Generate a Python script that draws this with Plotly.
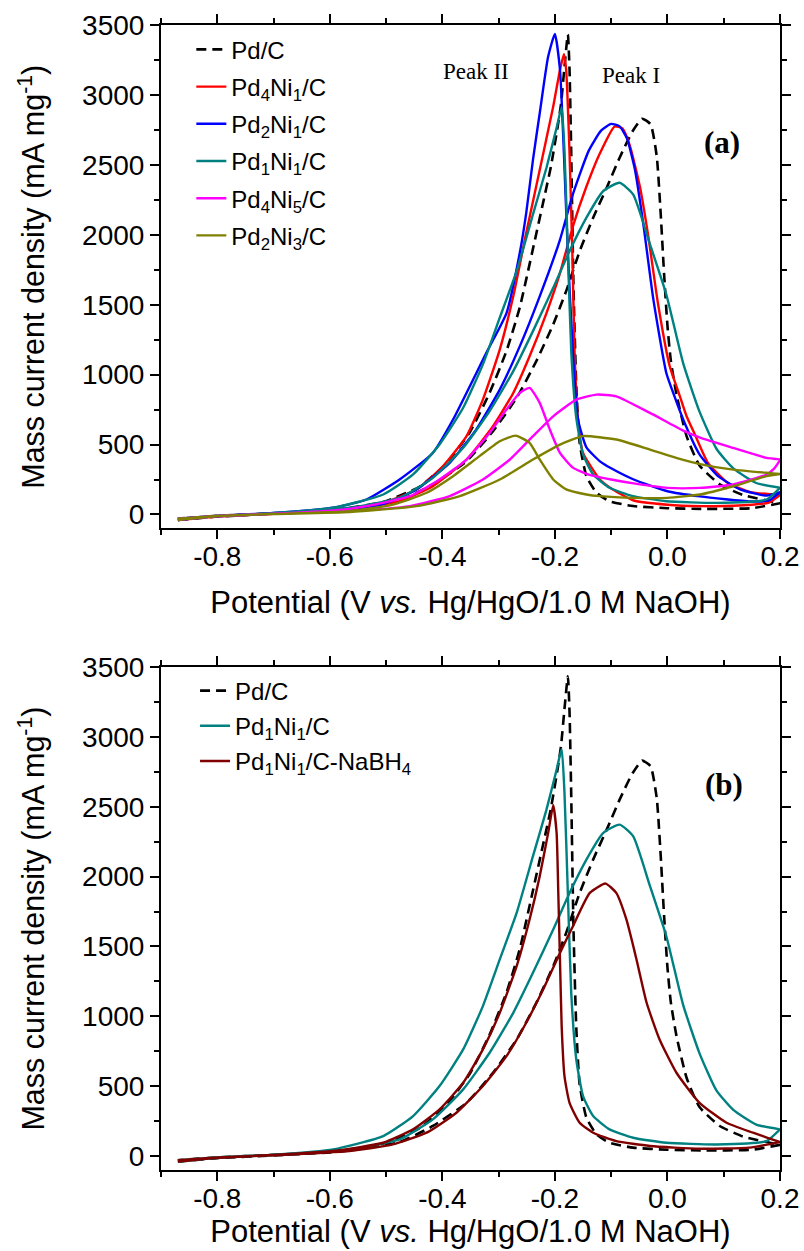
import plotly.graph_objects as go

# ---------------- data (V vs Hg/HgO, mA mg^-1) ----------------
# Pd/C
pdc_fwd_v = [-0.87, -0.80, -0.70, -0.60, -0.565, -0.476, -0.417, -0.357, -0.310, -0.268, -0.233, -0.203,
             -0.180, -0.156, -0.132, -0.108, -0.085, -0.062, -0.045, -0.030, -0.019, -0.012, -0.006, 0.000,
             0.006, 0.016, 0.034, 0.057, 0.093, 0.134, 0.188, 0.200]
pdc_fwd_i = [-40, -15, 5, 25, 40, 100, 215, 381, 596, 834, 1097, 1359,
             1597, 1883, 2122, 2336, 2551, 2740, 2830, 2790, 2560, 2150, 1720, 1350,
             1100, 860, 560, 350, 215, 140, 90, 80]
pdc_bwd_v = [0.200, 0.150, 0.060, 0.000, -0.061, -0.103, -0.126, -0.144, -0.156, -0.162, -0.167, -0.171,
             -0.174, -0.177, -0.183, -0.189, -0.195, -0.207, -0.221, -0.239, -0.2625, -0.286, -0.316,
             -0.351, -0.393, -0.440, -0.505, -0.594, -0.70, -0.80, -0.87]
pdc_bwd_i = [80, 45, 40, 45, 60, 95, 155, 274, 512, 917, 1631, 2583,
             3179, 3433, 3200, 2940, 2775, 2490, 2229, 1900, 1480, 1170, 870,
             590, 365, 200, 90, 32, 8, -10, -30]

# Pd4Ni1/C
p41_fwd_v = [-0.87, -0.80, -0.70, -0.60, -0.565, -0.476, -0.417, -0.357, -0.310, -0.274, -0.245, -0.215,
             -0.191, -0.168, -0.144, -0.120, -0.094, -0.080, -0.067, -0.049, -0.034, -0.017, 0.004,
             0.020, 0.034, 0.049, 0.072, 0.107, 0.147, 0.200]
p41_fwd_i = [-40, -15, 5, 25, 36, 95, 202, 393, 631, 869, 1131, 1440,
             1726, 2060, 2345, 2583, 2774, 2760, 2640, 2345, 1988, 1512, 1060,
             870, 702, 570, 369, 226, 160, 140]
p41_bwd_v = [0.200, 0.180, 0.117, 0.058, 0.000, -0.060, -0.097, -0.120, -0.150, -0.159, -0.165, -0.169,
             -0.174, -0.180, -0.184, -0.191, -0.203, -0.227, -0.251, -0.274, -0.298, -0.328, -0.357,
             -0.399, -0.446, -0.505, -0.594, -0.70, -0.80, -0.87]
p41_bwd_i = [140, 85, 62, 60, 70, 100, 178, 250, 440, 679, 1155, 1869,
             2583, 3180, 3291, 3179, 2917, 2464, 2012, 1560, 1179, 821, 560,
             345, 179, 83, 28, 8, -10, -30]

# Pd2Ni1/C
p21_fwd_v = [-0.87, -0.80, -0.70, -0.594, -0.505, -0.446, -0.387, -0.340, -0.298, -0.2625, -0.227, -0.191,
             -0.168, -0.140, -0.118, -0.100, -0.085, -0.072, -0.058, -0.043, -0.025, -0.002, 0.012,
             0.030, 0.057, 0.090, 0.129, 0.176, 0.200]
p21_fwd_i = [-40, -12, 8, 30, 75, 179, 369, 607, 893, 1202, 1560, 1964,
             2290, 2600, 2745, 2793, 2775, 2690, 2470, 2080, 1536, 1012, 850,
             660, 430, 274, 180, 135, 160]
p21_bwd_v = [0.200, 0.180, 0.147, 0.058, 0.000, -0.060, -0.100, -0.120, -0.144, -0.159, -0.168, -0.177,
             -0.184, -0.191, -0.200, -0.212, -0.227, -0.239, -0.251, -0.2625, -0.286, -0.322, -0.381,
             -0.417, -0.476, -0.535, -0.594, -0.70, -0.80, -0.87]
p21_bwd_i = [160, 100, 93, 129, 166, 250, 330, 380, 480, 680, 1155, 1870,
             2583, 3180, 3436, 3274, 2869, 2536, 2155, 1869, 1440, 1155, 679,
             440, 250, 107, 48, 10, -10, -30]

# Pd1Ni1/C
p11_fwd_v = [-0.87, -0.80, -0.70, -0.565, -0.476, -0.417, -0.363, -0.316, -0.274, -0.239, -0.203, -0.174,
             -0.144, -0.114, -0.085, -0.061, -0.031, -0.002, 0.028, 0.057, 0.087, 0.117, 0.158, 0.200]
p11_fwd_i = [-40, -12, 8, 48, 119, 262, 477, 739, 1025, 1311, 1621, 1883,
             2122, 2313, 2372, 2289, 1931, 1573, 1080, 735, 470, 330, 225, 191]
p11_bwd_v = [0.200, 0.176, 0.087, -0.002, -0.061, -0.103, -0.132, -0.150, -0.162, -0.171, -0.177, -0.183,
             -0.188, -0.197, -0.215, -0.239, -0.268, -0.298, -0.328, -0.363, -0.405, -0.452, -0.505,
             -0.594, -0.70, -0.80, -0.87]
p11_bwd_i = [191, 107, 83, 95, 131, 191, 286, 429, 691, 1168, 1883, 2599,
             2913, 2765, 2479, 2146, 1740, 1407, 1073, 763, 501, 286, 143,
             48, 10, -10, -30]

# Pd4Ni5/C
p45_fwd_v = [-0.87, -0.80, -0.70, -0.565, -0.458, -0.387, -0.328, -0.280, -0.239, -0.203, -0.162, -0.126,
             -0.091, -0.031, 0.028, 0.058, 0.117, 0.176, 0.200]
p45_fwd_i = [-40, -12, 5, 24, 60, 131, 250, 393, 560, 702, 821, 857,
             845, 726, 600, 550, 476, 405, 393]
p45_bwd_v = [0.200, 0.190, 0.176, 0.117, 0.058, 0.000, -0.060, -0.100, -0.140, -0.168, -0.191, -0.209,
             -0.227, -0.245, -0.2625, -0.286, -0.316, -0.357, -0.405, -0.458, -0.535, -0.594, -0.70,
             -0.80, -0.87]
p45_bwd_i = [390, 330, 286, 214, 190, 190, 222, 250, 285, 335, 440, 607,
             798, 905, 869, 750, 583, 393, 250, 131, 60, 28, 5,
             -10, -30]

# Pd2Ni3/C
p23_fwd_v = [-0.87, -0.80, -0.70, -0.565, -0.446, -0.369, -0.298, -0.239, -0.191, -0.150, -0.091, -0.031,
             0.028, 0.058, 0.117, 0.176, 0.200]
p23_fwd_i = [-40, -12, 3, 17, 60, 131, 250, 393, 500, 560, 536, 464,
             390, 360, 321, 298, 290]
p23_bwd_v = [0.200, 0.176, 0.117, 0.058, 0.000, -0.060, -0.120, -0.144, -0.180, -0.203, -0.227, -0.245,
             -0.270, -0.298, -0.334, -0.381, -0.428, -0.488, -0.565, -0.70, -0.80, -0.87]
p23_bwd_i = [290, 274, 202, 143, 119, 119, 131, 143, 179, 250, 393, 512,
             564, 524, 417, 274, 155, 71, 24, 3, -10, -30]

# Pd1Ni1/C-NaBH4
nab_fwd_v = [-0.87, -0.80, -0.70, -0.565, -0.488, -0.428, -0.375, -0.328, -0.286, -0.251, -0.221, -0.191,
             -0.168, -0.138, -0.110, -0.091, -0.073, -0.055, -0.037, -0.014, 0.016, 0.057, 0.105, 0.152, 0.200]
nab_fwd_i = [-40, -12, 5, 36, 83, 167, 310, 501, 715, 954, 1192, 1454,
             1645, 1883, 1950, 1883, 1693, 1407, 1097, 834, 596, 381, 238, 167, 100]
nab_bwd_v = [0.200, 0.146, 0.057, -0.031, -0.091, -0.132, -0.156, -0.174, -0.183, -0.188, -0.191, -0.194,
             -0.197, -0.203, -0.212, -0.227, -0.245, -0.268, -0.298, -0.328, -0.363, -0.405, -0.452,
             -0.505, -0.594, -0.70, -0.80, -0.87]
nab_bwd_i = [100, 60, 52, 72, 107, 167, 238, 381, 572, 930, 1407, 1883,
             2313, 2510, 2313, 2003, 1693, 1359, 1025, 763, 524, 334, 191,
             95, 36, 8, -10, -30]

x_ticks = [-0.8, -0.6, -0.4, -0.2, 0.0, 0.2]
x_tick_text = ["-0.8", "-0.6", "-0.4", "-0.2", "0.0", "0.2"]
y_ticks = [0, 500, 1000, 1500, 2000, 2500, 3000, 3500]

# ---------------- figure ----------------
SANS = "Liberation Sans, Arial, sans-serif"
SERIF = "Liberation Serif, Times New Roman, serif"

fig = go.Figure()

DASH = "10px,6px"
top_series = [
    ("Pd/C", pdc_fwd_v, pdc_fwd_i, pdc_bwd_v, pdc_bwd_i, "#000000", DASH),
    ("Pd<sub>4</sub>Ni<sub>1</sub>/C", p41_fwd_v, p41_fwd_i, p41_bwd_v, p41_bwd_i, "#FF0000", "solid"),
    ("Pd<sub>2</sub>Ni<sub>1</sub>/C", p21_fwd_v, p21_fwd_i, p21_bwd_v, p21_bwd_i, "#0000FF", "solid"),
    ("Pd<sub>1</sub>Ni<sub>1</sub>/C", p11_fwd_v, p11_fwd_i, p11_bwd_v, p11_bwd_i, "#008080", "solid"),
    ("Pd<sub>4</sub>Ni<sub>5</sub>/C", p45_fwd_v, p45_fwd_i, p45_bwd_v, p45_bwd_i, "#FF00FF", "solid"),
    ("Pd<sub>2</sub>Ni<sub>3</sub>/C", p23_fwd_v, p23_fwd_i, p23_bwd_v, p23_bwd_i, "#808000", "solid"),
]
bottom_series = [
    ("Pd/C", pdc_fwd_v, pdc_fwd_i, pdc_bwd_v, pdc_bwd_i, "#000000", DASH),
    ("Pd<sub>1</sub>Ni<sub>1</sub>/C", p11_fwd_v, p11_fwd_i, p11_bwd_v, p11_bwd_i, "#008080", "solid"),
    ("Pd<sub>1</sub>Ni<sub>1</sub>/C-NaBH<sub>4</sub>", nab_fwd_v, nab_fwd_i, nab_bwd_v, nab_bwd_i, "#800000", "solid"),
]

for k, (name, fv, fi, bv, bi, col, dash) in enumerate(top_series):
    fig.add_trace(go.Scatter(
        x=fv + bv, y=fi + bi, mode="lines", name=name,
        line=dict(color=col, width=2.6 if dash == DASH else 2.4, dash=dash, shape="spline", smoothing=0.5),
        xaxis="x", yaxis="y", legend="legend", legendgroup="t%d" % k))

for k, (name, fv, fi, bv, bi, col, dash) in enumerate(bottom_series):
    fig.add_trace(go.Scatter(
        x=fv + bv, y=fi + bi, mode="lines", name=name,
        line=dict(color=col, width=2.6 if dash == DASH else 2.4, dash=dash, shape="spline", smoothing=0.5),
        xaxis="x2", yaxis="y2", legend="legend2", legendgroup="b%d" % k))

def xaxis_style(domain_anchor, standoff):
    return dict(
        range=[-0.9, 0.2], tickvals=x_ticks, ticktext=x_tick_text,
        ticks="outside", ticklen=9, tickwidth=2, tickcolor="black",
        minor=dict(dtick=0.1, ticks="outside", ticklen=5, tickwidth=2, tickcolor="black"),
        showline=True, linewidth=2, linecolor="black", mirror="ticks",
        showgrid=False, zeroline=False, anchor=domain_anchor, automargin=False,
        ticklabelstandoff=-7,
        tickfont=dict(family=SANS, size=28, color="black"),
        title=dict(text="Potential (V <i>vs.</i> Hg/HgO/1.0 M NaOH)",
                   font=dict(family=SANS, size=31, color="black"), standoff=standoff),
    )

def yaxis_style(domain, anchor):
    return dict(
        range=[-100, 3500], tickvals=y_ticks, domain=domain, anchor=anchor,
        ticks="outside", ticklen=9, tickwidth=2, tickcolor="black",
        minor=dict(dtick=250, ticks="outside", ticklen=5, tickwidth=2, tickcolor="black"),
        showline=True, linewidth=2, linecolor="black", mirror="ticks",
        showgrid=False, zeroline=False, automargin=False,
        tickfont=dict(family=SANS, size=28, color="black"),
        title=dict(text="Mass current density (mA mg<sup>-1</sup>)",
                   font=dict(family=SANS, size=30.5, color="black"), standoff=28),
    )

TOP_DOM = [0.5603, 1.0]
BOT_DOM = [0.0, 0.4393]

fig.update_layout(
    width=804, height=1251,
    margin=dict(l=161, r=24, t=25, b=81),
    paper_bgcolor="white", plot_bgcolor="white",
    xaxis=xaxis_style("y", 20),
    yaxis=yaxis_style(TOP_DOM, "x"),
    xaxis2=xaxis_style("y2", 0),
    yaxis2=yaxis_style(BOT_DOM, "x2"),
    legend=dict(x=0.049, y=0.998, xanchor="left", yanchor="top", bgcolor="rgba(0,0,0,0)",
                font=dict(family=SANS, size=24, color="black"), tracegroupgap=3,
                borderwidth=0),
    legend2=dict(x=0.055, y=0.4380, xanchor="left", yanchor="top", bgcolor="rgba(0,0,0,0)",
                 font=dict(family=SANS, size=24, color="black"), tracegroupgap=1,
                 borderwidth=0),
    showlegend=True,
)

fig.add_annotation(x=-0.341, y=3164, xref="x", yref="y", text="Peak II", showarrow=False,
                   font=dict(family=SERIF, size=23, color="black"))
fig.add_annotation(x=-0.065, y=3136, xref="x", yref="y", text="Peak I", showarrow=False,
                   font=dict(family=SERIF, size=23, color="black"))
fig.add_annotation(x=0.097, y=2657, xref="x", yref="y", text="<b>(a)</b>", showarrow=False,
                   font=dict(family=SERIF, size=31, color="black"))
fig.add_annotation(x=0.1005, y=2657, xref="x2", yref="y2", text="<b>(b)</b>", showarrow=False,
                   font=dict(family=SERIF, size=31, color="black"))

fig.write_html("out.html", config={"displayModeBar": False},
               post_script="document.body.style.margin='0px';")
